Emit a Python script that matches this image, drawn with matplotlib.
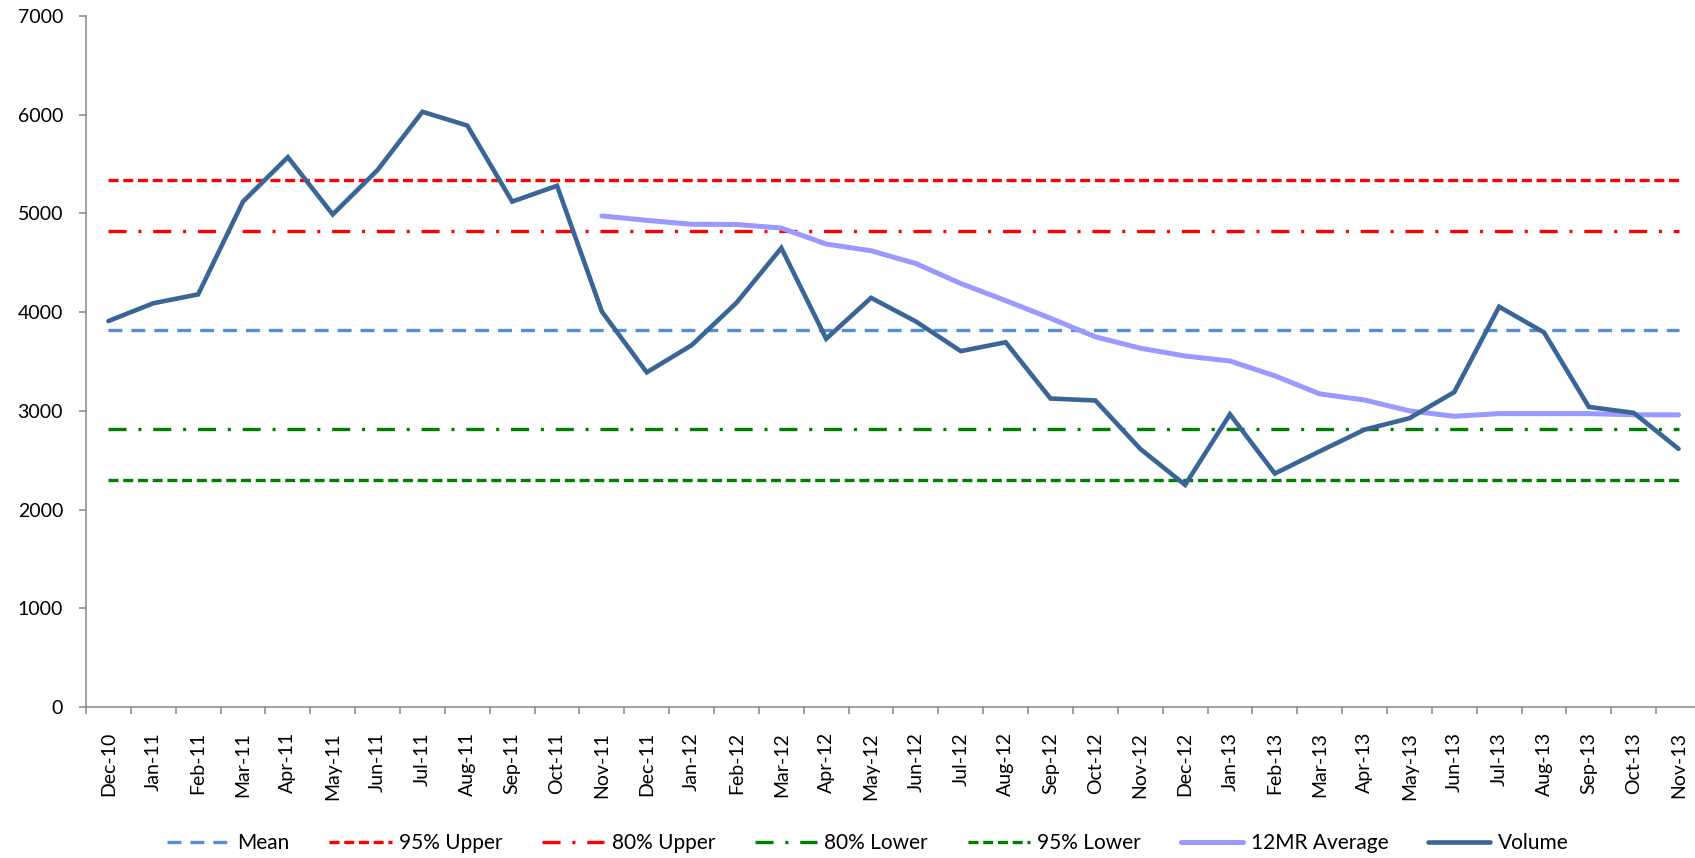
import numpy as np
import matplotlib.pyplot as plt

plt.rcParams["font.family"] = ["Lato", "DejaVu Sans"]
plt.rcParams["lines.scale_dashes"] = False

months = [
    "Dec-10", "Jan-11", "Feb-11", "Mar-11", "Apr-11", "May-11", "Jun-11",
    "Jul-11", "Aug-11", "Sep-11", "Oct-11", "Nov-11", "Dec-11", "Jan-12",
    "Feb-12", "Mar-12", "Apr-12", "May-12", "Jun-12", "Jul-12", "Aug-12",
    "Sep-12", "Oct-12", "Nov-12", "Dec-12", "Jan-13", "Feb-13", "Mar-13",
    "Apr-13", "May-13", "Jun-13", "Jul-13", "Aug-13", "Sep-13", "Oct-13",
    "Nov-13",
]

volume = [
    3910, 4090, 4180, 5120, 5570, 4990, 5440, 6030, 5890, 5120, 5280, 4005,
    3390, 3665, 4095, 4650, 3730, 4145, 3905, 3605, 3695, 3125, 3105, 2615,
    2250, 2965, 2365, 2590, 2810, 2925, 3190, 4055, 3795, 3040, 2980, 2615,
]

# 12 month rolling average, starts at Nov-11
avg_12mr_start = 11
avg_12mr = [
    4975, 4930, 4890, 4888, 4852, 4690, 4622, 4492, 4290, 4117, 3938, 3750,
    3635, 3556, 3505, 3355, 3172, 3110, 3000, 2945, 2972, 2972, 2972, 2960,
    2960,
]

mean_level = 3815
upper_95 = 5340
upper_80 = 4820
lower_80 = 2815
lower_95 = 2295

# colours
c_mean = "#558ED5"
c_red = "#FF0000"
c_green = "#008000"
c_avg = "#9999FF"
c_vol = "#3A6597"
c_axis = "#868686"

fig = plt.figure(figsize=(16.95, 8.58), dpi=100)
ax = fig.add_axes([86 / 1695, 151 / 858, 1615 / 1695, 691 / 858])

n = len(months)
x = np.arange(n)

ax.plot(x, np.full(n, mean_level), color=c_mean, lw=2.4,
        dashes=(10, 6.5), label="Mean")
ax.plot(x, np.full(n, upper_95), color=c_red, lw=2.4,
        dashes=(7.2, 3.4), label="95% Upper")
ax.plot(x, np.full(n, upper_80), color=c_red, lw=2.4,
        dashes=(13, 8.5, 2.2, 8.5), label="80% Upper")
ax.plot(x, np.full(n, lower_80), color=c_green, lw=2.4,
        dashes=(13, 8.5, 2.2, 8.5), label="80% Lower")
ax.plot(x, np.full(n, lower_95), color=c_green, lw=2.4,
        dashes=(7.2, 3.4), label="95% Lower")
ax.plot(x[avg_12mr_start:], avg_12mr, color=c_avg, lw=3.6,
        solid_capstyle="round", label="12MR Average")
ax.plot(x, volume, color=c_vol, lw=3.3, solid_joinstyle="miter",
        solid_capstyle="round", label="Volume")

ax.set_xlim(-0.5, n - 0.5)
ax.set_ylim(0, 7000)

# category axis: ticks between categories, labels on the categories
ax.set_xticks(np.arange(n + 1) - 0.5)
ax.set_xticklabels([])
ax.set_xticks(x, minor=True)
ax.set_xticklabels(months, minor=True, rotation=90, fontsize=14)
ax.tick_params(axis="x", which="major", length=5, width=1.1, color=c_axis,
               direction="out")
ax.tick_params(axis="x", which="minor", length=0, pad=18)

ax.set_yticks(np.arange(0, 7001, 1000))
ax.tick_params(axis="y", length=5, width=1.1, color=c_axis, pad=11.5,
               labelsize=14)

for side in ["top", "right"]:
    ax.spines[side].set_visible(False)
for side in ["left", "bottom"]:
    ax.spines[side].set_color(c_axis)
    ax.spines[side].set_linewidth(1.1)

fig.legend(
    loc="center", bbox_to_anchor=(0.512, 1 - 843 / 858), ncol=7,
    frameon=False, fontsize=15, handlelength=3.0, handletextpad=0.35,
    columnspacing=1.9,
)

fig.savefig("out.png", dpi=100)
